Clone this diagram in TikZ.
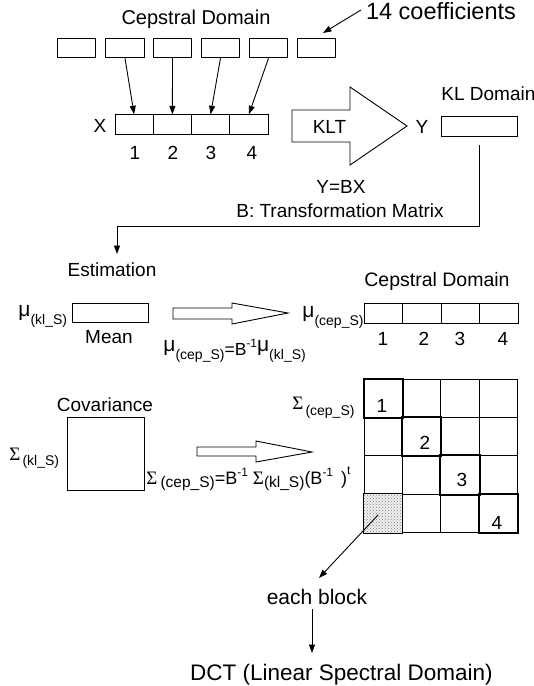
\documentclass[tikz,border=0pt]{standalone}
\usepackage{fontspec}
\setmainfont{Liberation Sans}
\newfontfamily\grk{Liberation Serif}
\usetikzlibrary{arrows.meta,patterns}
\newcommand{\fs}[1]{\fontsize{#1}{#1}\selectfont}
\newcommand{\gmu}{\raisebox{4pt}{\fs{21}μ}}
\newcommand{\gsig}{{\grk\fs{19}Σ}}
\newcommand{\lsub}[3][14]{\raisebox{-#2}{\fs{#1}#3}}
\newcommand{\hsup}[2][8pt]{\raisebox{#1}{\fs{12}#2}}
\begin{document}
\begin{tikzpicture}[x=1pt,y=-1pt,line width=0.9pt,
  cell/.style={draw,inner sep=0,minimum width=38.5pt,minimum height=19.5pt},
  txt/.style={inner sep=0,anchor=base,font=\fs{19}},
  ltxt/.style={inner sep=0,anchor=base west,font=\fs{19}},
  arr/.style={-{Triangle[length=8.5pt,width=6pt]}},
  hollow/.style={draw,fill=white,line join=miter},
  mcell/.style={draw,inner sep=0,minimum width=38.4pt,minimum height=38.4pt},
  diag/.style={line width=2pt}]
\useasboundingbox (0,0) rectangle (534,686);

% ---- top row
\node[txt,font=\fs{20}] (cd1) at (196,24) {Cepstral Domain};
\node[txt,font=\fs{23.5}] (coef) at (441,19.5) {14 coefficients};
\foreach \i/\x in {1/76.5,2/125,3/172.5,4/220.5,5/268.5,6/316.5}
  \node[cell] (t\i) at (\x,48) {};
\coordinate (ca) at (361,10);
\coordinate (cb) at (323,33);
\draw[arr] (ca) -- (cb);

% ---- X row
\foreach \i/\x in {1/134.1,2/172.4,3/210.6,4/248.9}
  \node[cell,minimum width=38.25pt] (x\i) at (\x,124.5) {};
\node[txt] (xl) at (100,132) {X};
\foreach \i/\x in {1/135,2/173,3/211,4/252}
  \node[txt] (xn\i) at (\x,159) {\i};
\draw[arr] (t2.south) -- (x1.north);
\draw[arr] (t3.south) -- (x2.north);
\draw[arr] (t4.south) -- (x3.north);
\draw[arr] (t5.south) -- (x4.north);

% ---- KLT arrow
\draw[hollow] (292,110) -- (350,110) -- (350,87) -- (407,126) -- (350,165) -- (350,142) -- (292,142) -- cycle;
\node[txt] (klt) at (329.5,133) {KLT};
\node[txt] (yl) at (422,133) {Y};
\node[draw,inner sep=0,minimum width=76pt,minimum height=20pt] (kl) at (479,126) {};
\node[ltxt] (kld) at (441,100) {KL Domain};
\node[txt] (ybx) at (341,193) {Y=BX};
\node[txt] (btm) at (340,217) {B: Transformation Matrix};

\coordinate (k1) at (479,145);
\coordinate (k3) at (117,226);
\coordinate (k2) at (117,254);
\draw[arr] (k1) |- (k3) -- (k2);

% ---- mean
\node[txt] (est) at (112,276) {Estimation};
\node[ltxt] (mukl) at (18,320) {\gmu\lsub{4pt}{(kl\_S)}};
\node[draw,inner sep=0,minimum width=76pt,minimum height=19pt] (mean) at (110,312.5) {};
\node[txt] (meant) at (109,343) {Mean};
\draw[hollow] (173,308) -- (232,308) -- (232,303) -- (288,313) -- (232,324) -- (232,319) -- (173,319) -- cycle;
\node[ltxt,font=\fs{17.5}] (f1) at (163,355) {\gmu\lsub{4pt}{(cep\_S)}=B\hsup{-1}\gmu\lsub{4pt}{(kl\_S)}};

\node[txt,font=\fs{19.5}] (cd2) at (437,286) {Cepstral Domain};
\node[ltxt] (mucep) at (302,321) {\gmu\lsub{4pt}{(cep\_S)}};
\foreach \i/\x in {1/383.25,2/421.75,3/460.25,4/498.75}
  \node[cell,minimum height=20pt] (c\i) at (\x,313) {};
\foreach \i/\x in {1/383,2/424,3/460,4/503}
  \node[txt] (cn\i) at (\x,345) {\i};

% ---- covariance
\node[txt] (cov) at (105,411) {Covariance};
\node[draw,inner sep=0,minimum width=77pt,minimum height=73pt] (covb) at (105.5,453.5) {};
\node[ltxt] (sgkl) at (9,460) {\gsig\hspace{2pt}\lsub{5pt}{(kl\_S)}};
\draw[hollow] (197,447) -- (256,447) -- (256,441) -- (312,452) -- (256,462) -- (256,456) -- (197,456) -- cycle;
\node[ltxt,font=\fs{18}] (f2) at (146,484) {\gsig\hspace{3pt}\lsub[15.5]{3pt}{(cep\_S)}=B\hsup{-1}\hspace{5pt}\gsig\lsub[15.5]{3pt}{(kl\_S)}(B\hsup{-1}\hspace{8pt})\hsup[10pt]{t}};

% ---- matrix
\foreach \r in {1,2,3,4}
  \foreach \c in {1,2,3,4}
    \node[mcell] (m\r\c) at ({364+38.4*(\c-0.5)},{379+38.4*(\r-0.5)}) {};
\fill[gray!12] (m41.north west) rectangle (m41.south east);
\fill[pattern=crosshatch dots,pattern color=gray] (m41.north west) rectangle (m41.south east);
\draw (m41.north west) rectangle (m41.south east);
\foreach \k in {1,2,3,4}
  \draw[diag] (m\k\k.north west) rectangle (m\k\k.south east);
\node[txt] (d1) at (382,412) {1};
\node[txt] (d2) at (425,449) {2};
\node[txt] (d3) at (462,486) {3};
\node[txt] (d4) at (497,529) {4};
\node[ltxt] (sgcep) at (292,409) {\gsig\hspace{2pt}\lsub{6pt}{(cep\_S)}};

% ---- bottom
\coordinate (s1) at (378,515);
\coordinate (s2) at (319,578);
\draw[arr] (s1) -- (s2);
\node[txt,font=\fs{21}] (eb) at (317,604.5) {each block};
\coordinate (e1) at (312,609);
\coordinate (e2) at (312,653);
\draw[arr] (e1) -- (e2);
\node[txt,font=\fs{22.5}] (dct) at (341.5,680) {DCT (Linear Spectral Domain)};
\end{tikzpicture}
\end{document}
